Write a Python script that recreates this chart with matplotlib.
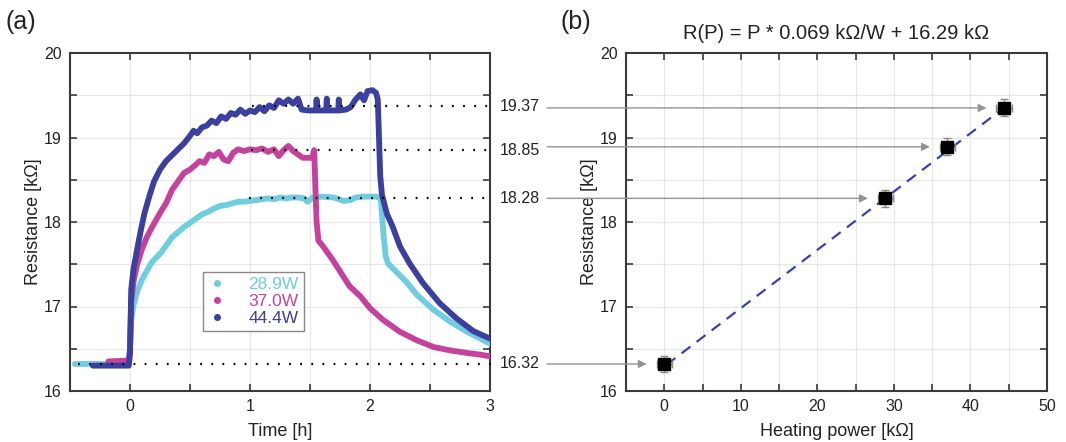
import numpy as np
import matplotlib
matplotlib.use("Agg")
import matplotlib.pyplot as plt
from matplotlib.lines import Line2D
from matplotlib.ticker import MultipleLocator

plt.rcParams['font.family'] = ['Liberation Sans', 'DejaVu Sans']

# ---------------- data: panel (a) ----------------
t_289 = [-0.46, -0.01, 0.0, 0.01, 0.03, 0.06, 0.10, 0.14, 0.18, 0.22, 0.26, 0.30, 0.35, 0.40, 0.45,
         0.50, 0.55, 0.60, 0.65, 0.70, 0.75, 0.80, 0.85, 0.90, 0.95, 1.00, 1.05, 1.10, 1.15, 1.20,
         1.25, 1.30, 1.35, 1.40, 1.45, 1.48, 1.52, 1.60, 1.70, 1.78, 1.84, 1.88, 1.95, 2.05, 2.09,
         2.11, 2.13, 2.15, 2.22, 2.31, 2.39, 2.53, 2.67, 2.81, 2.92, 3.00]
r_289 = [16.32, 16.32, 16.50, 16.85, 17.02, 17.18, 17.32, 17.42, 17.52, 17.58, 17.64, 17.72, 17.82, 17.88, 17.94,
         17.99, 18.04, 18.09, 18.12, 18.16, 18.19, 18.20, 18.22, 18.24, 18.24, 18.25, 18.26, 18.27, 18.28, 18.27,
         18.29, 18.28, 18.29, 18.29, 18.28, 18.24, 18.29, 18.30, 18.29, 18.25, 18.26, 18.29, 18.30, 18.30, 18.28,
         17.90, 17.60, 17.51, 17.41, 17.28, 17.14, 16.96, 16.82, 16.70, 16.62, 16.56]

t_370 = [-0.18, -0.01, 0.0, 0.01, 0.03, 0.06, 0.10, 0.14, 0.18, 0.22, 0.26, 0.30, 0.35, 0.40, 0.45,
         0.50, 0.55, 0.58, 0.62, 0.66, 0.70, 0.74, 0.78, 0.82, 0.86, 0.90, 0.95, 1.00, 1.05, 1.10,
         1.15, 1.20, 1.24, 1.28, 1.32, 1.36, 1.40, 1.44, 1.48, 1.52, 1.535, 1.545, 1.555, 1.57, 1.61,
         1.69, 1.78, 1.83, 1.92, 2.00, 2.11, 2.25, 2.39, 2.53, 2.67, 2.81, 2.92, 3.00]
r_370 = [16.35, 16.36, 16.50, 17.05, 17.30, 17.50, 17.68, 17.82, 17.93, 18.03, 18.13, 18.22, 18.38, 18.48, 18.58,
         18.62, 18.68, 18.72, 18.70, 18.80, 18.78, 18.83, 18.74, 18.72, 18.82, 18.86, 18.84, 18.86, 18.85, 18.87,
         18.83, 18.86, 18.78, 18.85, 18.90, 18.84, 18.80, 18.76, 18.76, 18.76, 18.85, 18.40, 18.00, 17.78, 17.71,
         17.55, 17.35, 17.24, 17.12, 16.98, 16.84, 16.70, 16.60, 16.52, 16.48, 16.45, 16.43, 16.41]

t_444 = [-0.31, -0.15, -0.01, 0.0, 0.01, 0.03, 0.06, 0.09, 0.12, 0.16, 0.20, 0.25, 0.30, 0.35, 0.40,
         0.45, 0.50, 0.53, 0.56, 0.60, 0.64, 0.68, 0.72, 0.76, 0.80, 0.84, 0.88, 0.92, 0.96, 1.00,
         1.04, 1.08, 1.12, 1.16, 1.20, 1.24, 1.28, 1.32, 1.36, 1.40, 1.43, 1.48, 1.55, 1.555, 1.56,
         1.635, 1.64, 1.645, 1.735, 1.74, 1.745, 1.80, 1.84, 1.88, 1.92, 1.95, 1.98, 2.02, 2.05, 2.065,
         2.075, 2.085, 2.10, 2.14, 2.19, 2.25, 2.33, 2.44, 2.58, 2.72, 2.86, 3.00]
r_444 = [16.30, 16.30, 16.30, 16.45, 17.20, 17.45, 17.68, 17.90, 18.10, 18.30, 18.48, 18.62, 18.72, 18.79, 18.86,
         18.93, 19.02, 19.08, 19.05, 19.12, 19.14, 19.20, 19.17, 19.25, 19.22, 19.29, 19.27, 19.33, 19.28, 19.32,
         19.30, 19.36, 19.31, 19.38, 19.35, 19.44, 19.40, 19.45, 19.40, 19.46, 19.33, 19.32, 19.32, 19.45, 19.32,
         19.32, 19.46, 19.32, 19.32, 19.45, 19.32, 19.33, 19.36, 19.45, 19.51, 19.44, 19.55, 19.56, 19.53, 19.45,
         19.00, 18.55, 18.32, 18.10, 17.94, 17.71, 17.51, 17.28, 17.04, 16.86, 16.71, 16.62]

series_labels = ['28.9W', '37.0W', '44.4W']
series_colors = ['#6fcde0', '#c4429c', '#3b3f9e']

# plateau values marked with dotted lines
plateau_values = [19.37, 18.85, 18.28]
baseline_value = 16.32

# ---------------- data: panel (b) ----------------
power = [0.0, 28.9, 37.0, 44.4]
resistance = [16.32, 18.28, 18.89, 19.35]
power_err = [1.0, 1.0, 1.0, 1.0]
resistance_err = [0.1, 0.1, 0.1, 0.1]
fit_slope = 0.069
fit_intercept = 16.29

# ---------------- figure ----------------
fig = plt.figure(figsize=(10.66, 4.42), dpi=100)
W, H = 1066, 442
axA = fig.add_axes([70 / W, (H - 391) / H, 420 / W, 338 / H])
axB = fig.add_axes([626 / W, (H - 391) / H, 421 / W, 338 / H])

spine_col = '#3a3a3a'
text_col = '#222222'
for ax in (axA, axB):
    for s in ax.spines.values():
        s.set_color(spine_col)
        s.set_linewidth(1.5)
    ax.tick_params(which='both', direction='in', top=True, right=True, length=5,
                   width=1.2, color=spine_col, labelsize=11.5, labelcolor=text_col, pad=6)
    ax.grid(True, which='both', color='#e6e6e6', lw=0.8, zorder=0)
    ax.set_axisbelow(True)

# ----- panel (a) -----
axA.set_xlim(-0.5, 3)
axA.set_ylim(16, 20)
axA.xaxis.set_major_locator(MultipleLocator(1))
axA.xaxis.set_minor_locator(MultipleLocator(0.5))
axA.yaxis.set_major_locator(MultipleLocator(1))
axA.yaxis.set_minor_locator(MultipleLocator(0.5))

for tt, rr, col in zip([t_289, t_370, t_444], [r_289, r_370, r_444], series_colors):
    axA.plot(tt, rr, color=col, lw=4.2, solid_capstyle='round', solid_joinstyle='round', zorder=3)

dot_style = dict(color='black', lw=1.6, linestyle=(0, (0.8, 4.2)), zorder=4)
for v, x0 in zip(plateau_values, [1.02, 1.01, 0.99]):
    axA.plot([x0, 3.0], [v, v], **dot_style)
    axA.text(3.08, v, f'{v:.2f}', va='center', ha='left', fontsize=11.5, color=text_col,
             clip_on=False)
axA.plot([-0.43, 3.06], [baseline_value, baseline_value], clip_on=False, **dot_style)
axA.text(3.08, baseline_value, f'{baseline_value:.2f}', va='center', ha='left',
         fontsize=11.5, color=text_col, clip_on=False)

handles = [Line2D([], [], marker='o', ls='none', ms=4, color=c) for c in series_colors]
leg = axA.legend(handles, series_labels, loc='upper left', bbox_to_anchor=(0.317, 0.352),
                 fontsize=12.5, frameon=True, fancybox=False, framealpha=1,
                 edgecolor='#888888', handlelength=1.0, handletextpad=1.3,
                 labelspacing=0.1, borderpad=0.3, borderaxespad=0)
leg.get_frame().set_linewidth(1.0)
for txt, c in zip(leg.get_texts(), series_colors):
    txt.set_color(c)

axA.set_xlabel('Time [h]', fontsize=13, color=text_col, labelpad=6)
axA.set_ylabel('Resistance [k\u03a9]', fontsize=13, color=text_col, labelpad=1)
fig.text(5 / W, 1 - 22 / H, '(a)', fontsize=18, color=text_col, va='center', ha='left')

# ----- panel (b) -----
axB.set_xlim(-5, 50)
axB.set_ylim(16, 20)
axB.xaxis.set_major_locator(MultipleLocator(10))
axB.xaxis.set_minor_locator(MultipleLocator(5))
axB.yaxis.set_major_locator(MultipleLocator(1))
axB.yaxis.set_minor_locator(MultipleLocator(0.5))

p_line = np.array([power[0] + 0.3, power[-1]])
axB.plot(p_line, fit_slope * p_line + fit_intercept, color='#3b3fb0', lw=1.6,
         linestyle=(0, (5, 3.5)), zorder=3)
axB.errorbar(power, resistance, xerr=power_err, yerr=resistance_err, fmt='s',
             color='black', ms=8, ecolor='#888888', elinewidth=1, capsize=3, zorder=4)

for p, r in zip(power, resistance):
    axB.annotate('', xy=(p - 2.3, r), xytext=(-15.3, r), xycoords='data', textcoords='data',
                 annotation_clip=False,
                 arrowprops=dict(arrowstyle='-|>', color='#949494', lw=1.0,
                                 mutation_scale=12, shrinkA=0, shrinkB=0))

axB.set_title('R(P) = P * 0.069 k\u03a9/W + 16.29 k\u03a9', fontsize=14.5, color=text_col, pad=10)
axB.set_xlabel('Heating power [k\u03a9]', fontsize=13, color=text_col, labelpad=6)
axB.set_ylabel('Resistance [k\u03a9]', fontsize=13, color=text_col, labelpad=1)
fig.text(560 / W, 1 - 22 / H, '(b)', fontsize=18, color=text_col, va='center', ha='left')

fig.savefig('out.png', dpi=100)
